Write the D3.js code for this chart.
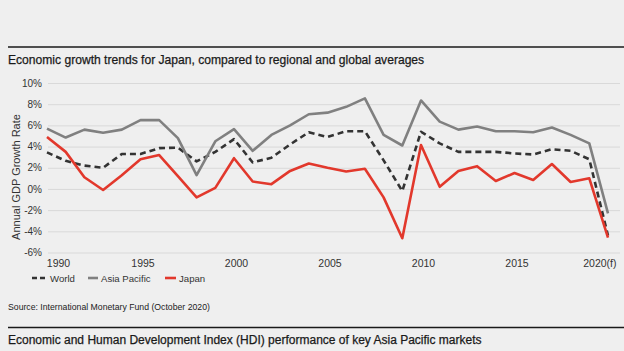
<!DOCTYPE html>
<html>
<head>
<meta charset="utf-8">
<script src="https://cdn.jsdelivr.net/npm/d3@7"></script>
<style>
  body { margin: 0; background: #efefef; overflow: hidden; }
  svg { display: block; font-family: "Liberation Sans", Arial, sans-serif; }
  .axis .domain { display: none; }
  .y.axis line { stroke: #d9d9d9; }
  .axis text { fill: #333; }
  .title { stroke: #1a1a1a; stroke-width: 0.25; }
</style>
</head>
<body>
<div id="chart-area"></div>
<script>
const years = d3.range(1990, 2021);
const world = [3.45, 2.65, 2.2, 2.0, 3.3, 3.3, 3.85, 3.9, 2.6, 3.5, 4.7, 2.5, 2.95, 4.2, 5.35, 4.9,
  5.45, 5.45, 2.7, -0.2, 5.4, 4.3, 3.5, 3.5, 3.5, 3.35, 3.25, 3.75, 3.6, 2.8, -4.4];
const asiaPacific = [5.7, 4.85, 5.6, 5.3, 5.6, 6.5, 6.5, 4.8, 1.3, 4.5, 5.65, 3.6, 5.1, 6.0, 7.05, 7.2,
  7.75, 8.55, 5.1, 4.1, 8.35, 6.35, 5.6, 5.9, 5.45, 5.45, 5.35, 5.8, 5.1, 4.3, -2.3];
const japan = [4.9, 3.5, 1.1, -0.1, 1.3, 2.8, 3.2, 1.2, -0.8, 0.1, 2.9, 0.7, 0.45, 1.7, 2.4, 2.0,
  1.65, 1.9, -0.8, -4.65, 4.15, 0.2, 1.7, 2.15, 0.75, 1.5, 0.85, 2.35, 0.65, 1.0, -4.6];
const yTicks = [-6, -4, -2, 0, 2, 4, 6, 8, 10];
const xTicks = [1990, 1995, 2000, 2005, 2010, 2015, 2020];

const series = [
  {name: "World", values: world, color: "#333333", dash: "6,4"},
  {name: "Asia Pacific", values: asiaPacific, color: "#808080", dash: null},
  {name: "Japan", values: japan, color: "#e2382c", dash: null}
];

const W = 624, H = 351;
const margin = {top: 83, right: 4, bottom: 98.5, left: 47};
const width = W - margin.left - margin.right;
const height = H - margin.top - margin.bottom;
const plotRight = 561; // last data point sits a bit inside the grid

const svg = d3.select("#chart-area").append("svg")
    .attr("width", W)
    .attr("height", H);

svg.append("rect").attr("width", W).attr("height", H).attr("fill", "#efefef");

// header rules and titles
svg.append("line").attr("x1", 8).attr("x2", W).attr("y1", 47).attr("y2", 47)
    .attr("stroke", "#1a1a1a").attr("stroke-width", 1.5);
svg.append("text").attr("class", "title").attr("x", 8).attr("y", 64)
    .attr("font-size", 12.1).attr("fill", "#1a1a1a")
    .text("Economic growth trends for Japan, compared to regional and global averages");

svg.append("text").attr("x", 8).attr("y", 310)
    .attr("font-size", 8.7).attr("fill", "#222")
    .text("Source: International Monetary Fund (October 2020)");

svg.append("line").attr("x1", 8).attr("x2", W).attr("y1", 327.5).attr("y2", 327.5)
    .attr("stroke", "#1a1a1a").attr("stroke-width", 1.5);
svg.append("text").attr("class", "title").attr("x", 8).attr("y", 344)
    .attr("font-size", 12).attr("fill", "#1a1a1a")
    .text("Economic and Human Development Index (HDI) performance of key Asia Pacific markets");

const g = svg.append("g")
    .attr("transform", "translate(" + margin.left + ", " + margin.top + ")");

const x = d3.scaleLinear().domain([1990, 2020]).range([0, plotRight]);
const y = d3.scaleLinear().domain([-6, 10]).range([height, 0]);

const yAxisCall = d3.axisLeft(y)
    .tickValues(yTicks)
    .tickSize(-(width - 1))
    .tickPadding(5)
    .tickFormat((d) => d + "%");
g.append("g").attr("class", "y axis")
    .attr("transform", "translate(1,0)")
    .call(yAxisCall)
    .selectAll("text").attr("font-size", 10).attr("dx", -1);

const xAxisCall = d3.axisBottom(x)
    .tickValues(xTicks)
    .tickSize(0)
    .tickPadding(7)
    .tickFormat((d) => d === 2020 ? "2020(f)" : d);
const xAxisGroup = g.append("g").attr("class", "x axis")
    .attr("transform", "translate(0," + height + ")")
    .call(xAxisCall);
xAxisGroup.selectAll("text").attr("font-size", 10.5)
    .attr("text-anchor", (d) => d === 2020 ? "end" : "middle")
    .attr("dx", (d) => d === 1990 ? 11 : d === 2020 ? 8 : 2);

g.append("text")
    .attr("transform", "rotate(-90)")
    .attr("x", -(177 - margin.top))
    .attr("y", -27)
    .attr("text-anchor", "middle")
    .attr("font-size", 11)
    .attr("fill", "#333")
    .text("Annual GDP Growth Rate");

const line = d3.line()
    .x((d, i) => x(years[i]))
    .y((d) => y(d));

g.selectAll("path.series").data(series).enter().append("path")
    .attr("class", "series")
    .attr("d", (d) => line(d.values))
    .attr("fill", "none")
    .attr("stroke", (d) => d.color)
    .attr("stroke-width", 2.6)
    .attr("stroke-linejoin", "round")
    .attr("stroke-dasharray", (d) => d.dash);

// legend
const legendPos = [{sx: 32, tx: 50}, {sx: 88, tx: 101}, {sx: 165, tx: 179}];
const legend = svg.append("g").selectAll("g").data(series).enter().append("g");
legend.append("line")
    .attr("x1", (d, i) => legendPos[i].sx)
    .attr("x2", (d, i) => legendPos[i].tx - 3)
    .attr("y1", 278).attr("y2", 278)
    .attr("stroke", (d) => d.color)
    .attr("stroke-width", 2.6)
    .attr("stroke-dasharray", (d) => d.dash ? "5,3" : null);
legend.append("text")
    .attr("x", (d, i) => legendPos[i].tx)
    .attr("y", 281.5)
    .attr("font-size", 9.6)
    .attr("fill", "#333")
    .text((d) => d.name);
</script>
</body>
</html>
